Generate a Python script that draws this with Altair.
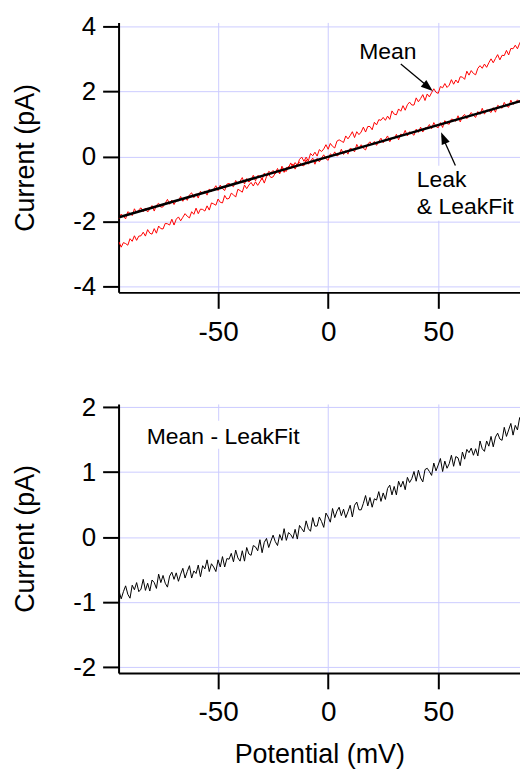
import altair as alt
import pandas as pd

FONT = "Liberation Sans"

# Potential grid (mV), one sample per mV
potential = list(range(-95, 91))

# Mean - LeakFit (pA), bottom panel
diff_vals = [
    -0.83, -0.95, -0.84, -0.75, -0.88, -0.94, -0.74, -0.81, -0.70, -0.84,
    -0.80, -0.65, -0.82, -0.71, -0.83, -0.66, -0.70, -0.79, -0.57, -0.70,
    -0.59, -0.71, -0.77, -0.60, -0.54, -0.65, -0.55, -0.68, -0.57, -0.48,
    -0.63, -0.53, -0.44, -0.63, -0.52, -0.56, -0.43, -0.61, -0.44, -0.49,
    -0.35, -0.53, -0.41, -0.46, -0.53, -0.35, -0.46, -0.30, -0.46, -0.33,
    -0.34, -0.25, -0.38, -0.20, -0.32, -0.37, -0.21, -0.37, -0.16, -0.26,
    -0.28, -0.13, -0.15, -0.21, -0.04, -0.24, -0.08, -0.02, -0.16, -0.06,
    0.03, -0.07, -0.13, 0.04, -0.05, 0.13, -0.05, 0.07, 0.04, -0.02,
    0.12, -0.03, 0.18, 0.13, 0.08, 0.25, 0.13, 0.09, 0.30, 0.17,
    0.17, 0.31, 0.24, 0.15, 0.37, 0.31, 0.23, 0.44, 0.30, 0.40,
    0.46, 0.33, 0.43, 0.30, 0.39, 0.49, 0.31, 0.49, 0.54, 0.42,
    0.42, 0.52, 0.64, 0.48, 0.61, 0.46, 0.59, 0.57, 0.70, 0.55,
    0.68, 0.58, 0.75, 0.80, 0.65, 0.78, 0.65, 0.86, 0.77, 0.86,
    0.73, 0.92, 0.84, 0.90, 1.01, 0.86, 1.03, 0.91, 0.85, 1.04,
    1.06, 1.01, 0.95, 1.14, 1.02, 1.11, 1.21, 1.01, 1.17, 1.06,
    1.13, 1.26, 1.09, 1.24, 1.22, 1.10, 1.31, 1.20, 1.35, 1.30,
    1.37, 1.26, 1.36, 1.25, 1.48, 1.36, 1.32, 1.48, 1.40, 1.55,
    1.39, 1.54, 1.60, 1.51, 1.49, 1.69, 1.55, 1.65, 1.75, 1.57,
    1.72, 1.65, 1.84, 1.73, 1.86, 1.81,
]

# Leak trace (pA), top panel
leak_vals = [
    -1.92, -1.77, -1.84, -1.92, -1.70, -1.75, -1.82, -1.61, -1.74, -1.64,
    -1.58, -1.70, -1.59, -1.71, -1.62, -1.51, -1.68, -1.50, -1.44, -1.56,
    -1.55, -1.44, -1.32, -1.47, -1.34, -1.48, -1.35, -1.37, -1.23, -1.38,
    -1.25, -1.35, -1.18, -1.12, -1.27, -1.15, -1.28, -1.07, -1.15, -1.06,
    -1.19, -1.00, -1.08, -1.01, -0.90, -1.05, -0.88, -0.99, -1.05, -0.85,
    -0.83, -0.88, -0.93, -0.74, -0.85, -0.76, -0.65, -0.85, -0.68, -0.79,
    -0.72, -0.58, -0.75, -0.59, -0.61, -0.72, -0.51, -0.61, -0.46, -0.50,
    -0.43, -0.54, -0.43, -0.54, -0.30, -0.42, -0.46, -0.30, -0.38, -0.23,
    -0.39, -0.24, -0.18, -0.27, -0.29, -0.10, -0.24, -0.15, -0.05, -0.24,
    -0.06, -0.17, -0.05, 0.05, -0.07, -0.12, 0.08, 0.02, 0.14, 0.01,
    0.06, 0.22, 0.06, 0.18, 0.07, 0.25, 0.22, 0.14, 0.37, 0.24,
    0.36, 0.25, 0.20, 0.38, 0.45, 0.35, 0.46, 0.34, 0.46, 0.56,
    0.42, 0.53, 0.63, 0.45, 0.57, 0.54, 0.68, 0.51, 0.69, 0.65,
    0.80, 0.63, 0.76, 0.71, 0.65, 0.84, 0.74, 0.90, 0.75, 0.88,
    0.88, 0.98, 0.85, 1.04, 0.92, 0.88, 1.04, 0.89, 1.10, 1.01,
    0.99, 1.15, 1.13, 1.08, 1.25, 1.06, 1.23, 1.29, 1.16, 1.25,
    1.35, 1.26, 1.20, 1.38, 1.29, 1.48, 1.30, 1.43, 1.41, 1.35,
    1.50, 1.36, 1.57, 1.53, 1.48, 1.66, 1.55, 1.51, 1.73, 1.60,
    1.65, 1.74, 1.66, 1.81, 1.67, 1.77,
]

# Mean trace (pA), top panel
mean_vals = [
    -2.63, -2.79, -2.65, -2.68, -2.73, -2.53, -2.61, -2.44, -2.58, -2.45,
    -2.44, -2.33, -2.45, -2.25, -2.36, -2.39, -2.22, -2.36, -2.14, -2.22,
    -2.23, -2.06, -2.07, -2.11, -1.93, -2.11, -1.93, -1.86, -1.98, -1.87,
    -1.76, -1.84, -1.89, -1.70, -1.78, -1.59, -1.76, -1.62, -1.63, -1.68,
    -1.52, -1.65, -1.43, -1.46, -1.50, -1.31, -1.41, -1.43, -1.20, -1.31,
    -1.29, -1.13, -1.18, -1.25, -1.01, -1.05, -1.10, -0.88, -0.99, -0.88,
    -0.80, -0.91, -0.78, -0.89, -0.78, -0.66, -0.82, -0.62, -0.55, -0.65,
    -0.63, -0.51, -0.37, -0.51, -0.36, -0.49, -0.34, -0.35, -0.20, -0.33,
    -0.19, -0.28, -0.09, -0.02, -0.15, -0.02, -0.14, 0.09, 0.02, 0.13,
    0.01, 0.21, 0.15, 0.23, 0.36, 0.22, 0.40, 0.31, 0.26, 0.47,
    0.51, 0.47, 0.43, 0.63, 0.54, 0.64, 0.76, 0.58, 0.76, 0.67,
    0.75, 0.90, 0.75, 0.92, 0.92, 0.82, 1.05, 0.97, 1.13, 1.11,
    1.20, 1.11, 1.24, 1.14, 1.40, 1.30, 1.28, 1.46, 1.39, 1.56,
    1.42, 1.59, 1.67, 1.58, 1.58, 1.80, 1.68, 1.78, 1.90, 1.72,
    1.92, 1.83, 1.96, 2.08, 1.97, 1.94, 2.15, 2.11, 2.24, 2.12,
    2.19, 2.36, 2.22, 2.35, 2.26, 2.45, 2.44, 2.37, 2.62, 2.50,
    2.64, 2.55, 2.51, 2.71, 2.79, 2.71, 2.84, 2.74, 2.88, 3.00,
    2.88, 3.01, 3.13, 2.97, 3.11, 3.10, 3.26, 3.12, 3.32, 3.31,
    3.42, 3.31, 3.48, 3.59, 3.49, 3.61,
]

# LeakFit straight line end points
fit_x = [-95, 90]
fit_y = [-1.87, 1.75]

x_ticks = [-50, 0, 50]
top_y_ticks = [-4, -2, 0, 2, 4]
bottom_y_ticks = [-2, -1, 0, 1, 2]

traces = pd.DataFrame({"x": potential, "mean": mean_vals, "leak": leak_vals, "diff": diff_vals})
fit_df = pd.DataFrame({"x": fit_x, "y": fit_y})

W = 403
XMIN = -95.2
XMAX = XMIN + W / 2.21
xscale = alt.Scale(domain=[XMIN, XMAX], nice=False, zero=False)
top_yscale = alt.Scale(domain=[-4.18, 4.12], nice=False, zero=False)
bot_yscale = alt.Scale(domain=[-2.09, 2.05], nice=False, zero=False)

LBL = "'' + datum.value"
x_top_axis = alt.Axis(values=x_ticks, title=None, labelExpr=LBL, labelFontSize=28, labelPadding=10)
x_bot_axis = alt.Axis(values=x_ticks, title="Potential (mV)", titlePadding=15, labelExpr=LBL,
                      labelFontSize=28, labelPadding=10)
y_top_axis = alt.Axis(values=top_y_ticks, title="Current (pA)", titlePadding=33, labelExpr=LBL)
y_bot_axis = alt.Axis(values=bottom_y_ticks, title="Current (pA)", titlePadding=33, labelExpr=LBL)

base = alt.Chart(traces)
mean_line = base.mark_line(color="#ff0000", strokeWidth=1, clip=True).encode(
    x=alt.X("x:Q", scale=xscale, axis=x_top_axis),
    y=alt.Y("mean:Q", scale=top_yscale, axis=y_top_axis),
)
leak_line = base.mark_line(color="#ff0000", strokeWidth=1, clip=True).encode(
    x=alt.X("x:Q", scale=xscale, axis=x_top_axis), y=alt.Y("leak:Q", scale=top_yscale, axis=y_top_axis)
)
fit_line = alt.Chart(fit_df).mark_line(color="black", strokeWidth=2.5, clip=True).encode(
    x=alt.X("x:Q", scale=xscale, axis=x_top_axis), y=alt.Y("y:Q", scale=top_yscale, axis=y_top_axis)
)

# Annotations (top)
ann_box = pd.DataFrame({"x": [38.5], "x2": [85.1], "y": [-0.29], "y2": [-1.98]})
box_top = alt.Chart(ann_box).mark_rect(color="white", clip=True).encode(
    x=alt.X("x:Q", scale=xscale, axis=x_top_axis), x2="x2",
    y=alt.Y("y:Q", scale=top_yscale, axis=y_top_axis), y2="y2"
)
ann_text = pd.DataFrame({
    "x": [27.1, 40.3, 40.3],
    "y": [3.01, -0.935, -1.76],
    "t": ["Mean", "Leak", "& LeakFit"],
})
txt_mean = alt.Chart(ann_text.iloc[[0]]).mark_text(
    font=FONT, fontSize=23, align="center", baseline="alphabetic", color="black"
).encode(x=alt.X("x:Q", scale=xscale, axis=x_top_axis), y=alt.Y("y:Q", scale=top_yscale, axis=y_top_axis), text="t:N")
txt_leak = alt.Chart(ann_text.iloc[[1, 2]]).mark_text(
    font=FONT, fontSize=23, align="left", baseline="alphabetic", color="black"
).encode(x=alt.X("x:Q", scale=xscale, axis=x_top_axis), y=alt.Y("y:Q", scale=top_yscale, axis=y_top_axis), text="t:N")

arrows = pd.DataFrame({
    "x": [33.0, 57.8], "y": [2.84, -0.28],
    "x2": [46.5, 51.8], "y2": [2.08, 0.62],
    "tx": [47.5, 51.3], "ty": [2.01, 0.74], "ang": [130, 337],
})
arrow_lines = alt.Chart(arrows).mark_rule(color="black", strokeWidth=1.3).encode(
    x=alt.X("x:Q", scale=xscale, axis=x_top_axis), y=alt.Y("y:Q", scale=top_yscale, axis=y_top_axis), x2="x2", y2="y2"
)
arrow_heads = alt.Chart(arrows).mark_point(
    shape="M0,0L-0.36,1L0.36,1Z", filled=True, color="black", size=576, opacity=1, strokeWidth=0
).encode(
    x=alt.X("tx:Q", scale=xscale, axis=x_top_axis), y=alt.Y("ty:Q", scale=top_yscale, axis=y_top_axis),
    angle=alt.Angle("ang:Q", scale=None)
)

top = alt.layer(
    mean_line, leak_line, fit_line, box_top, txt_mean, txt_leak, arrow_lines, arrow_heads
).properties(width=W, height=271)

# Bottom panel
diff_line = base.mark_line(color="black", strokeWidth=1, clip=True).encode(
    x=alt.X("x:Q", scale=xscale, axis=x_bot_axis),
    y=alt.Y("diff:Q", scale=bot_yscale, axis=y_bot_axis),
)
box_bot_df = pd.DataFrame({"x": [-85.0], "x2": [-8.0], "y": [1.79], "y2": [1.36]})
box_bot = alt.Chart(box_bot_df).mark_rect(color="white").encode(
    x=alt.X("x:Q", scale=xscale, axis=x_bot_axis), x2="x2",
    y=alt.Y("y:Q", scale=bot_yscale, axis=y_bot_axis), y2="y2"
)
lab_bot_df = pd.DataFrame({"x": [-82.4], "y": [1.44], "t": ["Mean - LeakFit"]})
txt_bot = alt.Chart(lab_bot_df).mark_text(
    font=FONT, fontSize=23, align="left", baseline="alphabetic", color="black"
).encode(x=alt.X("x:Q", scale=xscale, axis=x_bot_axis), y=alt.Y("y:Q", scale=bot_yscale, axis=y_bot_axis), text="t:N")

bottom = alt.layer(diff_line, box_bot, txt_bot).properties(width=W, height=270)

chart = alt.vconcat(top, bottom, spacing=48).properties(
    padding={"left": 3, "top": 3, "right": 0, "bottom": 0}
).configure_view(stroke=None).configure_axis(
    domainColor="black", domainWidth=2, tickColor="black", tickWidth=2, tickSize=16,
    gridColor="#ccccff", gridWidth=1, labelFont=FONT, labelFontSize=26, labelColor="black",
    labelPadding=7, titleFont=FONT, titleFontSize=27, titleFontWeight="normal", titleColor="black",
)

chart.save("out.html", embed_options={"renderer": "svg", "actions": False})
